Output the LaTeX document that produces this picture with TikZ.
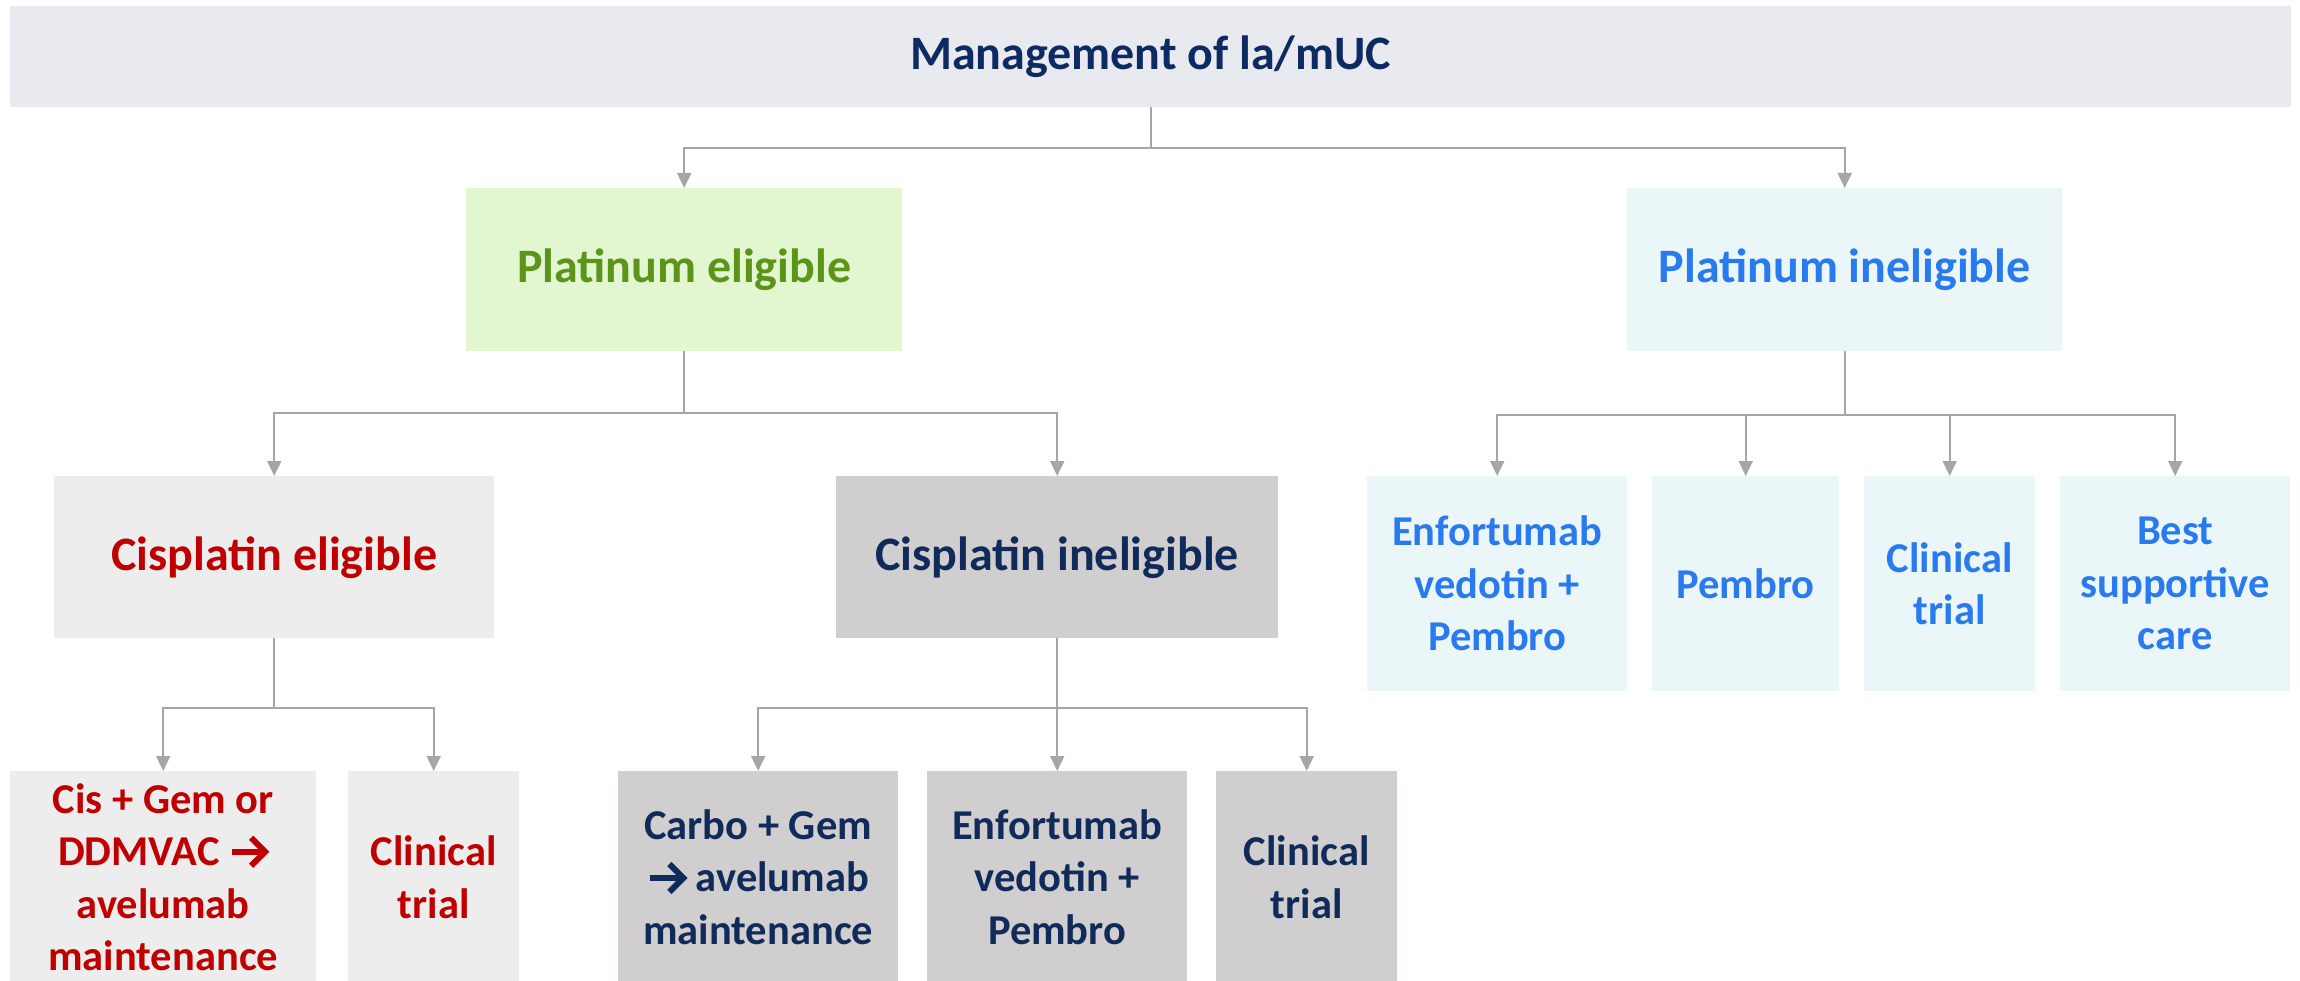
\documentclass[tikz,border=0pt]{standalone}
\usepackage{fontspec}
\setmainfont{Carlito}
\usetikzlibrary{arrows.meta}

\definecolor{topfill}{HTML}{E9EAF0}
\definecolor{navy}{HTML}{0D2B63}
\definecolor{pefill}{HTML}{E2F6D0}
\definecolor{pefg}{HTML}{5B9419}
\definecolor{pifill}{HTML}{EAF6F8}
\definecolor{pifg}{HTML}{2A7AEF}
\definecolor{cefill}{HTML}{EDEDED}
\definecolor{cefg}{HTML}{C00000}
\definecolor{cifill}{HTML}{D0CECE}
\definecolor{cifg}{HTML}{102A5A}
\definecolor{linegray}{HTML}{A6A6A6}

% bold "then" arrow used inside the option texts
\newcommand\thenarrow{\tikz[x=1pt, y=1pt, baseline=-14pt]{%
  \draw[color=., line width=6pt] (0,0) -- (32,0);
  \draw[color=., line width=6pt, miter limit=3] (19,14) -- (33,0) -- (19,-14);}}

\tikzset{
  box/.style={rectangle, inner sep=0pt, align=center, anchor=north west, font=\bfseries},
  bigtext/.style={font=\bfseries\fontsize{48}{58}\selectfont},
  smalltext/.style={font=\bfseries\fontsize{42.5}{52.5}\selectfont},
  topbox/.style={box, bigtext, fill=topfill, text=navy},
  pebox/.style={box, bigtext, fill=pefill, text=pefg},
  pibox/.style={box, bigtext, fill=pifill, text=pifg},
  cebox/.style={box, bigtext, fill=cefill, text=cefg},
  cibox/.style={box, bigtext, fill=cifill, text=cifg},
  ceopt/.style={box, smalltext, fill=cefill, text=cefg},
  ciopt/.style={box, smalltext, fill=cifill, text=cifg},
  piopt/.style={box, smalltext, fill=pifill, text=pifg},
  conn/.style={draw=linegray, line width=2pt, -{Triangle[length=15pt, width=14pt]}},
  trunk/.style={draw=linegray, line width=2pt}
}

\begin{document}
\begin{tikzpicture}[x=1pt, y=-1pt]
\useasboundingbox (0,0) rectangle (2300,981);

% root
\node[topbox, minimum width=2281, minimum height=101] (top) at (10,6) {Management of la/mUC};

% platinum split
\node[pebox, minimum width=436, minimum height=163] (pe) at (466,188) {Platinum eligible};
\node[pibox, minimum width=435, minimum height=163] (pi) at (1627,188) {Platinum ineligible};

% cisplatin split
\node[cebox, minimum width=440, minimum height=162] (ce) at (54,476) {Cisplatin eligible};
\node[cibox, minimum width=442, minimum height=162] (ci) at (836,476) {Cisplatin ineligible};

% cisplatin eligible options
\node[ceopt, minimum width=306, minimum height=212] (a1) at (10,771) {Cis + Gem or\\DDMVAC \thenarrow\\avelumab\\maintenance};
\node[ceopt, minimum width=171, minimum height=212] (a2) at (348,771) {Clinical\\trial};

% cisplatin ineligible options
\node[ciopt, minimum width=280, minimum height=212] (b1) at (618,771) {Carbo + Gem\\\thenarrow{} avelumab\\maintenance};
\node[ciopt, minimum width=260, minimum height=212] (b2) at (927,771) {Enfortumab\\vedotin +\\Pembro};
\node[ciopt, minimum width=181, minimum height=212] (b3) at (1216,771) {Clinical\\trial};

% platinum ineligible options
\node[piopt, minimum width=260, minimum height=215] (c1) at (1367,476) {Enfortumab\\vedotin +\\Pembro};
\node[piopt, minimum width=187, minimum height=215] (c2) at (1652,476) {Pembro};
\node[piopt, minimum width=171, minimum height=215] (c3) at (1864,476) {Clinical\\trial};
\node[piopt, minimum width=230, minimum height=215] (c4) at (2060,476) {Best\\supportive\\care};

% branch points
\path (top.south) ++(0,41) coordinate (j0);
\path (pe.south) ++(0,62) coordinate (j1);
\path (pi.south) ++(0,64) coordinate (j4);
\path (ce.south) ++(0,70) coordinate (j2);
\path (ci.south) ++(0,70) coordinate (j3);

% connectors
\draw[trunk] (top.south) -- (j0);
\draw[conn] (j0) -| (pe.north);
\draw[conn] (j0) -| (pi.north);

\draw[trunk] (pe.south) -- (j1);
\draw[conn] (j1) -| (ce.north);
\draw[conn] (j1) -| (ci.north);

\draw[trunk] (ce.south) -- (j2);
\draw[conn] (j2) -| (a1.north);
\draw[conn] (j2) -| (a2.north);

\draw[trunk] (ci.south) -- (j3);
\draw[conn] (j3) -| (b1.north);
\draw[conn] (j3) -- (b2.north);
\draw[conn] (j3) -| (b3.north);

\draw[trunk] (pi.south) -- (j4);
\draw[conn] (j4) -| (c1.north);
\draw[conn] (j4) -| (c2.north);
\draw[conn] (j4) -| (c3.north);
\draw[conn] (j4) -| (c4.north);
\end{tikzpicture}
\end{document}
